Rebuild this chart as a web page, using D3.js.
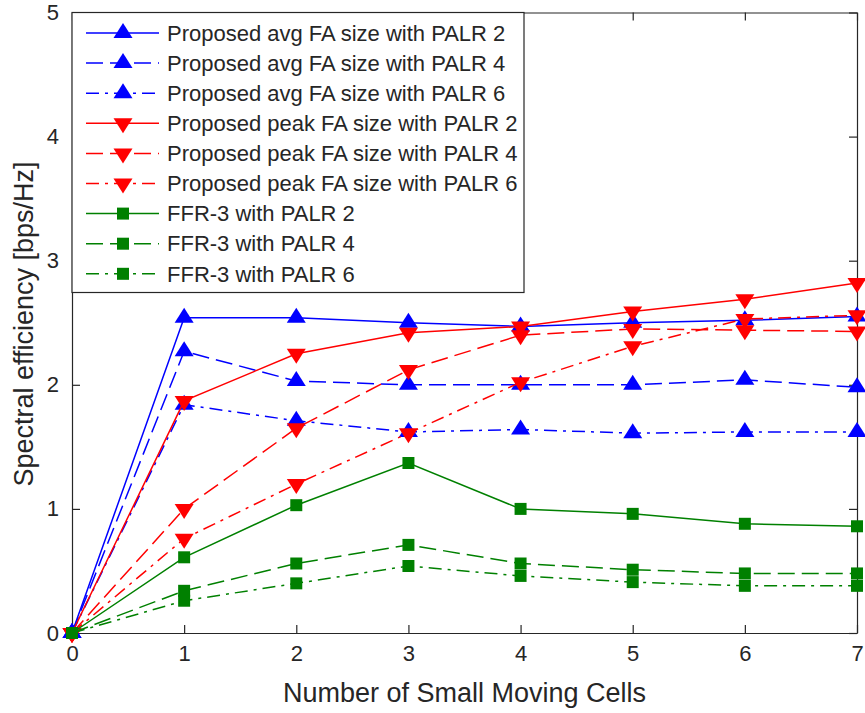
<!DOCTYPE html>
<html>
<head>
<meta charset="utf-8">
<script src="https://cdn.jsdelivr.net/npm/d3@7"></script>
<style>
  body { margin: 0; background: #fff; }
  text { font-family: "Liberation Sans", Arial, sans-serif; fill: #262626; }
</style>
</head>
<body>
<div id="chart"></div>
<script>
// Number of small moving cells
const cells = [0, 1, 2, 3, 4, 5, 6, 7];

// Spectral efficiency [bps/Hz] per series
const avgPalr2  = [0, 2.54, 2.54, 2.50, 2.47, 2.50, 2.52, 2.55];
const avgPalr4  = [0, 2.27, 2.03, 2.00, 2.00, 2.00, 2.04, 1.98];
const avgPalr6  = [0, 1.84, 1.71, 1.62, 1.64, 1.61, 1.62, 1.62];
const peakPalr2 = [0, 1.87, 2.25, 2.42, 2.47, 2.59, 2.69, 2.82];
const peakPalr4 = [0, 1.00, 1.65, 2.12, 2.40, 2.45, 2.44, 2.43];
const peakPalr6 = [0, 0.76, 1.20, 1.61, 2.02, 2.31, 2.53, 2.56];
const ffrPalr2  = [0, 0.61, 1.03, 1.37, 1.00, 0.96, 0.88, 0.86];
const ffrPalr4  = [0, 0.34, 0.56, 0.71, 0.56, 0.51, 0.48, 0.48];
const ffrPalr6  = [0, 0.26, 0.40, 0.54, 0.46, 0.41, 0.38, 0.38];

const seriesNames = [
    "Proposed avg FA size with PALR 2",
    "Proposed avg FA size with PALR 4",
    "Proposed avg FA size with PALR 6",
    "Proposed peak FA size with PALR 2",
    "Proposed peak FA size with PALR 4",
    "Proposed peak FA size with PALR 6",
    "FFR-3 with PALR 2",
    "FFR-3 with PALR 4",
    "FFR-3 with PALR 6"
];
const seriesValues = [avgPalr2, avgPalr4, avgPalr6, peakPalr2, peakPalr4, peakPalr6, ffrPalr2, ffrPalr4, ffrPalr6];

const xTicks = [0, 1, 2, 3, 4, 5, 6, 7];
const yTicks = [0, 1, 2, 3, 4, 5];

// Styles per series (kept apart from data)
const colors = ["#0000ff", "#0000ff", "#0000ff", "#ff0000", "#ff0000", "#ff0000", "#008000", "#008000", "#008000"];
const dashes = [null, "17,7", "13,6,3,6"];
const markers = ["up", "down", "square"];

const width = 865;
const height = 713;
const margin = { top: 12.5, right: 8, bottom: 80, left: 72 };

const svg = d3.select("#chart").append("svg")
    .attr("width", width)
    .attr("height", height);

const xScale = d3.scaleLinear().domain([0, 7]).range([margin.left, width - margin.right]);
const yScale = d3.scaleLinear().domain([0, 5]).range([height - margin.bottom, margin.top]);

// Marker path generator
function markerPath(kind) {
    if (kind === "up") return "M0,-10L9.5,5L-9.5,5Z";
    if (kind === "down") return "M0,10L9.5,-5L-9.5,-5Z";
    return "M-6,-6H6V6H-6Z";
}

// Axes (MATLAB style: ticks pointing inward, box on)
const tickLen = 8;
const axisColor = "#262626";

function styleAxis(g) {
    g.select(".domain").attr("stroke", axisColor).attr("stroke-width", 1.2);
    g.selectAll(".tick line").attr("stroke", axisColor).attr("stroke-width", 1.2);
    g.selectAll(".tick text").attr("font-size", "22px").attr("fill", axisColor);
}

svg.append("g")
    .attr("transform", `translate(0, ${height - margin.bottom})`)
    .call(d3.axisBottom(xScale).tickValues(xTicks).tickSizeInner(-tickLen).tickSizeOuter(0).tickPadding(12).tickFormat(d3.format("d")))
    .call(styleAxis);

svg.append("g")
    .attr("transform", `translate(0, ${margin.top})`)
    .call(d3.axisTop(xScale).tickValues(xTicks).tickSizeInner(-tickLen).tickSizeOuter(0).tickFormat(""))
    .call(styleAxis);

svg.append("g")
    .attr("transform", `translate(${margin.left}, 0)`)
    .call(d3.axisLeft(yScale).tickValues(yTicks).tickSizeInner(-tickLen).tickSizeOuter(0).tickPadding(13).tickFormat(d3.format("d")))
    .call(styleAxis);

svg.append("g")
    .attr("transform", `translate(${width - margin.right}, 0)`)
    .call(d3.axisRight(yScale).tickValues(yTicks).tickSizeInner(-tickLen).tickSizeOuter(0).tickFormat(""))
    .call(styleAxis);

// Axis labels
svg.append("text")
    .attr("x", (margin.left + width - margin.right) / 2)
    .attr("y", 702)
    .attr("text-anchor", "middle")
    .attr("font-size", "27px")
    .text("Number of Small Moving Cells");

const yLabelX = 33;
const yLabelY = 324;
svg.append("text")
    .attr("x", yLabelX)
    .attr("y", yLabelY)
    .attr("text-anchor", "middle")
    .attr("font-size", "27px")
    .attr("transform", `rotate(-90, ${yLabelX}, ${yLabelY})`)
    .text("Spectral efficiency [bps/Hz]");

// Lines and markers
const line = d3.line()
    .x((d, i) => xScale(cells[i]))
    .y(d => yScale(d));

const plot = svg.append("g").attr("class", "series");

seriesValues.forEach((vals, s) => {
    const g = plot.append("g");
    g.append("path")
        .datum(vals)
        .attr("fill", "none")
        .attr("stroke", colors[s])
        .attr("stroke-width", 1.5)
        .attr("stroke-dasharray", dashes[s % 3])
        .attr("d", line);
    g.selectAll("path.marker")
        .data(vals)
        .enter()
        .append("path")
        .attr("class", "marker")
        .attr("transform", (d, i) => `translate(${xScale(cells[i])}, ${yScale(d)})`)
        .attr("d", markerPath(markers[Math.floor(s / 3)]))
        .attr("fill", colors[s]);
});

// Legend
const legend = svg.append("g").attr("class", "legend");
const legX = margin.left, legY = margin.top, legW = 452, legH = 280;
legend.append("rect")
    .attr("x", legX)
    .attr("y", legY)
    .attr("width", legW)
    .attr("height", legH)
    .attr("fill", "#fff")
    .attr("stroke", axisColor)
    .attr("stroke-width", 1.2);

seriesNames.forEach((name, s) => {
    const rowY = 33 + s * 30.1;
    legend.append("line")
        .attr("x1", 86).attr("x2", 159)
        .attr("y1", rowY).attr("y2", rowY)
        .attr("stroke", colors[s])
        .attr("stroke-width", 1.5)
        .attr("stroke-dasharray", dashes[s % 3]);
    legend.append("path")
        .attr("transform", `translate(123, ${rowY})`)
        .attr("d", markerPath(markers[Math.floor(s / 3)]))
        .attr("fill", colors[s]);
    legend.append("text")
        .attr("x", 167)
        .attr("y", rowY)
        .attr("dy", "0.35em")
        .attr("font-size", "22px")
        .attr("fill", "#000")
        .text(name);
});
</script>
</body>
</html>
